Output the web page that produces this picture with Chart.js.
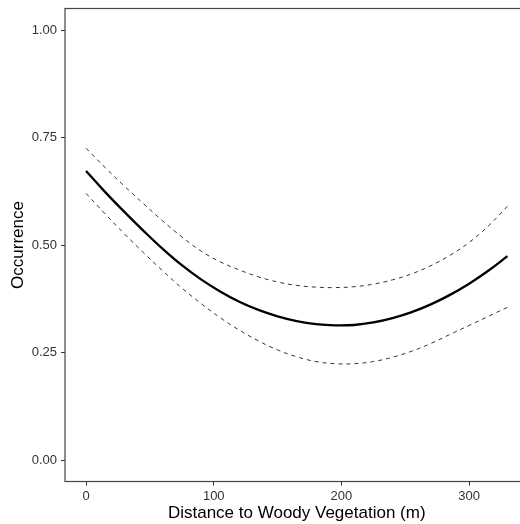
<!DOCTYPE html>
<html>
<head>
<meta charset="utf-8">
<script src="https://cdn.jsdelivr.net/npm/chart.js@4/dist/chart.umd.min.js"></script>
<style>
    html, body { margin: 0; padding: 0; background: #fff; }
    #wrap { width: 520px; height: 524px; overflow: hidden; }
    canvas { display: block; }
</style>
</head>
<body>
<div id="wrap"><canvas id="occChart" width="530" height="524"></canvas></div>
<script>
// distance (m) and fitted occurrence with upper / lower bounds
const distance = [0, 15, 30, 45, 60, 75, 90, 105, 120, 135, 150, 165, 180, 195, 210, 225, 240, 255, 270, 285, 300, 315, 330];
const fitted = [0.672, 0.623, 0.577, 0.533, 0.491, 0.453, 0.420, 0.392, 0.368, 0.349, 0.334, 0.323, 0.316, 0.313, 0.314, 0.320, 0.330, 0.344, 0.362, 0.384, 0.410, 0.440, 0.474];
const upper = [0.725, 0.680, 0.637, 0.596, 0.556, 0.519, 0.486, 0.461, 0.442, 0.426, 0.414, 0.406, 0.402, 0.401, 0.403, 0.409, 0.419, 0.433, 0.452, 0.476, 0.506, 0.544, 0.590];
const lower = [0.620, 0.572, 0.526, 0.482, 0.440, 0.400, 0.364, 0.331, 0.302, 0.277, 0.256, 0.240, 0.229, 0.224, 0.224, 0.229, 0.239, 0.253, 0.271, 0.292, 0.313, 0.334, 0.355];

const xTicks = [0, 100, 200, 300];
const yTicks = [0, 0.25, 0.5, 0.75, 1];

const FONT = "'Liberation Sans', Arial, sans-serif";

function toPoints(ys) {
    return distance.map((d, i) => ({ x: d, y: ys[i] }));
}

// panel border round the plotting area
const panelBorder = {
    id: "panelBorder",
    afterDraw(chart) {
        const { ctx, chartArea: a } = chart;
        ctx.save();
        ctx.strokeStyle = "#444";
        ctx.lineWidth = 1.2;
        ctx.strokeRect(a.left, a.top, a.right - a.left, a.bottom - a.top);
        ctx.restore();
    }
};

const ctx = document.getElementById("occChart").getContext("2d");

new Chart(ctx, {
    type: "line",
    data: {
        datasets: [
            {
                label: "Upper",
                data: toPoints(upper),
                borderColor: "#333",
                borderWidth: 1,
                borderDash: [4, 4]
            },
            {
                label: "Occurrence",
                data: toPoints(fitted),
                borderColor: "#000",
                borderWidth: 2.3
            },
            {
                label: "Lower",
                data: toPoints(lower),
                borderColor: "#333",
                borderWidth: 1,
                borderDash: [4, 4]
            }
        ]
    },
    options: {
        responsive: false,
        animation: false,
        layout: { padding: { top: 8.5, right: 1.5, left: 0, bottom: 0 } },
        elements: {
            point: { radius: 0 },
            line: { tension: 0.4, fill: false }
        },
        plugins: {
            legend: { display: false },
            tooltip: { enabled: false }
        },
        scales: {
            x: {
                type: "linear",
                min: -16.5,
                max: 346.5,
                afterBuildTicks: s => { s.ticks = xTicks.map(v => ({ value: v })); },
                afterFit: s => { s.height = 42.5; s.paddingLeft = 0; s.paddingRight = 0; },
                grid: { drawOnChartArea: false, tickLength: 4, tickColor: "#333" },
                border: { display: false },
                ticks: {
                    padding: 3.5,
                    color: "#333",
                    font: { family: FONT, size: 13 },
                    maxRotation: 0
                },
                title: {
                    display: true,
                    text: "Distance to Woody Vegetation (m)",
                    color: "#000",
                    font: { family: FONT, size: 17 },
                    padding: { top: 0, bottom: 0 }
                }
            },
            y: {
                type: "linear",
                min: -0.05,
                max: 1.05,
                afterBuildTicks: s => { s.ticks = yTicks.map(v => ({ value: v })); },
                afterFit: s => { s.width = 65; s.paddingTop = 0; s.paddingBottom = 0; },
                grid: { drawOnChartArea: false, tickLength: 4, tickColor: "#333" },
                border: { display: false },
                ticks: {
                    padding: 4,
                    color: "#333",
                    font: { family: FONT, size: 13 },
                    callback: v => v.toFixed(2)
                },
                title: {
                    display: true,
                    text: "Occurrence",
                    color: "#000",
                    font: { family: FONT, size: 17 },
                    padding: { top: 8.5, bottom: 0 }
                }
            }
        }
    },
    plugins: [panelBorder]
});
</script>
</body>
</html>
